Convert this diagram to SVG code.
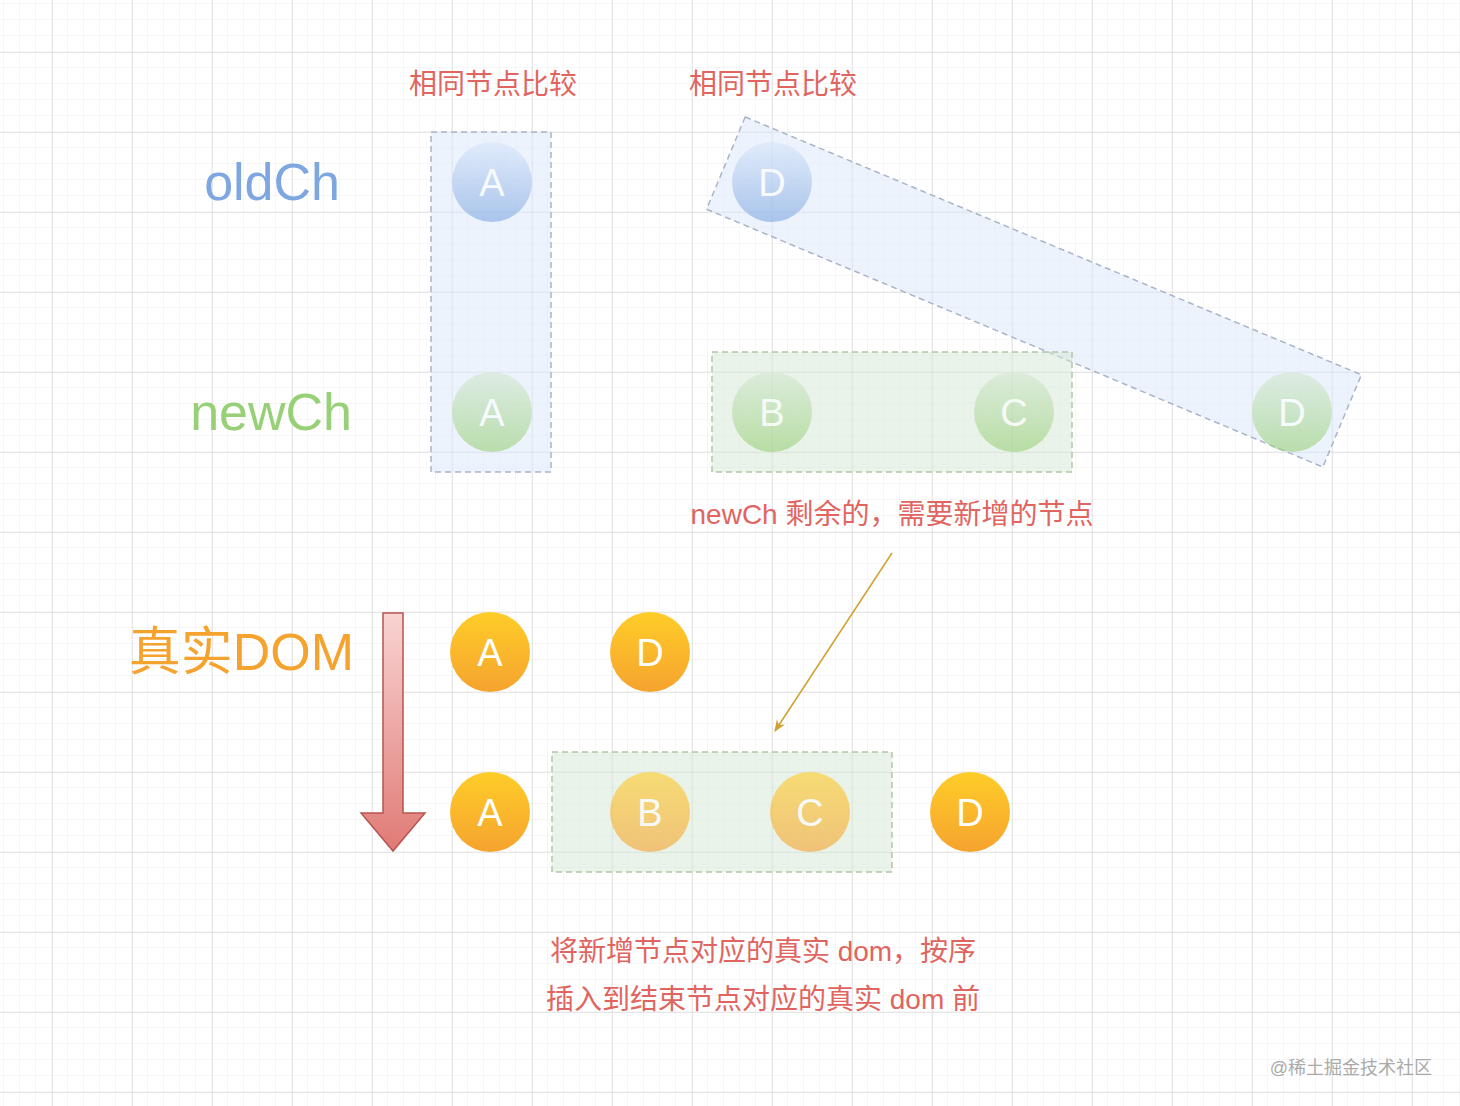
<svg xmlns="http://www.w3.org/2000/svg" width="1460" height="1106" viewBox="0 0 1460 1106">
<defs>
<pattern id="minor" width="16" height="16" patternUnits="userSpaceOnUse" x="4" y="4"><path d="M16 0V16M0 16H16" fill="none" stroke="#ececec" stroke-width="1"/></pattern>
<pattern id="major" width="80" height="80" patternUnits="userSpaceOnUse" x="52" y="52"><path d="M0 0V80M0 0H80" fill="none" stroke="#d0d0d0" stroke-width="1"/></pattern>
<linearGradient id="blue" x1="0" y1="0" x2="0" y2="1"><stop offset="0" stop-color="#dae8fc"/><stop offset="1" stop-color="#7ea6e0"/></linearGradient>
<linearGradient id="green" x1="0" y1="0" x2="0" y2="1"><stop offset="0" stop-color="#d5e8d4"/><stop offset="1" stop-color="#97d077"/></linearGradient>
<linearGradient id="orange" x1="0" y1="0" x2="0" y2="1"><stop offset="0" stop-color="#ffcd28"/><stop offset="1" stop-color="#f5a32f"/></linearGradient>
<linearGradient id="red" x1="0" y1="0" x2="0" y2="1"><stop offset="0" stop-color="#f8d4d2"/><stop offset="1" stop-color="#e07a76"/></linearGradient>
<marker id="ah" viewBox="0 0 10 10" refX="9" refY="5" markerWidth="8" markerHeight="8" orient="auto"><path d="M0 1L10 5L0 9L3 5Z" fill="#d0a030"/></marker>
</defs>
<style>
text{font-family:"Liberation Sans","Noto Sans CJK SC",sans-serif}
.lbl{fill:#e06560;font-size:28px;text-anchor:middle}
.ct{fill:#fff;font-size:38px;text-anchor:middle}
.fade{opacity:0.6}
.bz{fill:#dae8fc;fill-opacity:0.5;stroke:#aab4c8;stroke-width:1.5;stroke-dasharray:6 4}
.gz{fill:#d5e8d4;fill-opacity:0.5;stroke:#b0c8a8;stroke-width:1.5;stroke-dasharray:6 4}
</style>
<rect width="1460" height="1106" fill="#fff"/>
<rect width="1460" height="1106" fill="url(#minor)"/>
<rect width="1460" height="1106" fill="url(#major)"/>

<g id="zones">
<rect class="bz" x="431" y="132" width="120" height="340"/>
<rect class="bz" x="700" y="242" width="668" height="100" transform="rotate(22.7 1034 292)"/>
<rect class="gz" x="712" y="352" width="360" height="120"/>
<rect class="gz" x="552" y="752" width="340" height="120"/>
</g>

<g id="labels">
<text class="lbl" x="493" y="94">相同节点比较</text>
<text class="lbl" x="773" y="94">相同节点比较</text>
<text x="340" y="200" font-size="52" fill="#7ea6e0" text-anchor="end">oldCh</text>
<text x="352" y="430" font-size="52" fill="#97d077" text-anchor="end">newCh</text>
<text x="354" y="670" font-size="52" fill="#f5a32f" text-anchor="end">真实DOM</text>
<text class="lbl" x="892" y="524">newCh 剩余的，需要新增的节点</text>
<text class="lbl" x="763" y="961">将新增节点对应的真实 dom，按序</text>
<text class="lbl" x="763" y="1009">插入到结束节点对应的真实 dom 前</text>
<text x="1432" y="1074" font-size="18" fill="#aaa" text-anchor="end">@稀土掘金技术社区</text>
</g>

<g id="old-A" class="fade"><circle cx="492" cy="182" r="40" fill="url(#blue)"/><text class="ct" x="492" y="196">A</text></g>
<g id="old-D" class="fade"><circle cx="772" cy="182" r="40" fill="url(#blue)"/><text class="ct" x="772" y="196">D</text></g>
<g id="new-A" class="fade"><circle cx="492" cy="412" r="40" fill="url(#green)"/><text class="ct" x="492" y="426">A</text></g>
<g id="new-B" class="fade"><circle cx="772" cy="412" r="40" fill="url(#green)"/><text class="ct" x="772" y="426">B</text></g>
<g id="new-C" class="fade"><circle cx="1014" cy="412" r="40" fill="url(#green)"/><text class="ct" x="1014" y="426">C</text></g>
<g id="new-D" class="fade"><circle cx="1292" cy="412" r="40" fill="url(#green)"/><text class="ct" x="1292" y="426">D</text></g>

<g id="dom-A1"><circle cx="490" cy="652" r="40" fill="url(#orange)"/><text class="ct" x="490" y="666">A</text></g>
<g id="dom-D1"><circle cx="650" cy="652" r="40" fill="url(#orange)"/><text class="ct" x="650" y="666">D</text></g>
<g id="dom-A2"><circle cx="490" cy="812" r="40" fill="url(#orange)"/><text class="ct" x="490" y="826">A</text></g>
<g id="dom-B2" class="fade"><circle cx="650" cy="812" r="40" fill="url(#orange)"/><text class="ct" x="650" y="826">B</text></g>
<g id="dom-C2" class="fade"><circle cx="810" cy="812" r="40" fill="url(#orange)"/><text class="ct" x="810" y="826">C</text></g>
<g id="dom-D2"><circle cx="970" cy="812" r="40" fill="url(#orange)"/><text class="ct" x="970" y="826">D</text></g>

<g id="connectors">
<path d="M383 613H403V813H425L393 851L361 813H383Z" fill="url(#red)" stroke="#b85450" stroke-width="1.5"/>
<line x1="892" y1="553" x2="775" y2="731" stroke="#d0a030" stroke-width="1.5" marker-end="url(#ah)"/>
</g>
</svg>
